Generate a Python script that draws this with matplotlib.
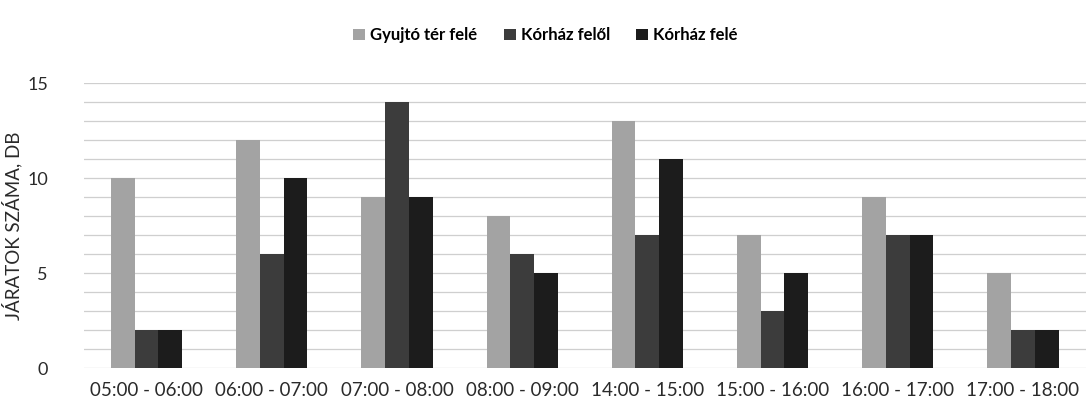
import numpy as np
import matplotlib.pyplot as plt

# adatok
idoszakok = ['05:00 - 06:00', '06:00 - 07:00', '07:00 - 08:00', '08:00 - 09:00',
             '14:00 - 15:00', '15:00 - 16:00', '16:00 - 17:00', '17:00 - 18:00']
gyujto_ter_fele = [10, 12, 9, 8, 13, 7, 9, 5]
korhaz_felol = [2, 6, 14, 6, 7, 3, 7, 2]
korhaz_fele = [2, 10, 9, 5, 11, 5, 7, 2]

plt.rcParams['font.family'] = ['Lato', 'DejaVu Sans']

fig = plt.figure(figsize=(10.91, 4.09), dpi=100)
ax = fig.add_axes([0.077, 0.10, 0.918, 0.697])

x = np.arange(len(idoszakok))
w = 0.19
ax.bar(x - w, gyujto_ter_fele, w, color='#a3a3a3', label='Gyujtó tér felé')
ax.bar(x, korhaz_felol, w, color='#3c3c3c', label='Kórház felől')
ax.bar(x + w, korhaz_fele, w, color='#1c1c1c', label='Kórház felé')

ax.set_xlim(-0.5, len(idoszakok) - 0.5)
ax.set_ylim(0, 15)
ax.set_yticks([0, 5, 10, 15])
ax.set_yticks(range(16), minor=True)
ax.grid(axis='y', which='both', color='#cfcfcf', linewidth=0.9)
ax.set_axisbelow(True)
for s in ax.spines.values():
    s.set_visible(False)
ax.tick_params(axis='both', which='both', length=0)
ax.tick_params(axis='y', labelsize=13, pad=26)
ax.tick_params(axis='x', labelsize=13.5, pad=10)
ax.set_xticks(x)
ax.set_xticklabels(idoszakok, color='#2a2a2a')
for t in ax.get_yticklabels():
    t.set_color('#2a2a2a')
ax.set_ylabel('JÁRATOK SZÁMA, DB', fontsize=13.5, color='#2a2a2a')
ax.yaxis.set_label_coords(-0.062, 0.5)

fig.legend(loc='upper center', bbox_to_anchor=(0.5, 0.97), ncol=3, frameon=False,
           prop={'size': 12, 'weight': 'bold'}, handlelength=0.7, handleheight=0.7,
           handletextpad=0.3, columnspacing=1.6)

fig.savefig('out.png', dpi=100)
